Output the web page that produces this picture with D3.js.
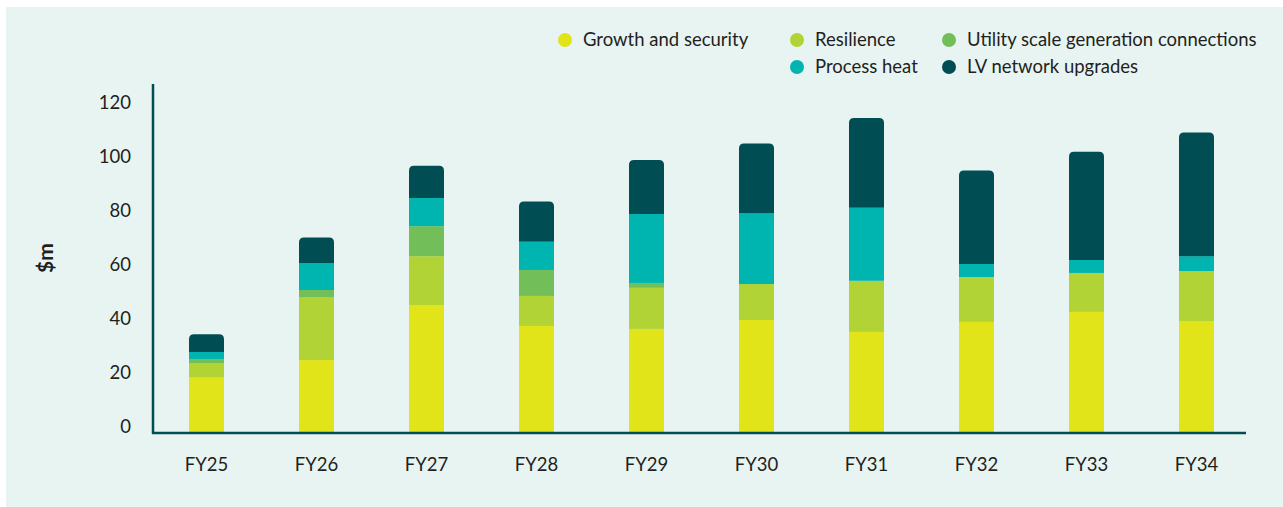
<!DOCTYPE html>
<html>
<head>
<meta charset="utf-8">
<script src="https://cdn.jsdelivr.net/npm/d3@7"></script>
<style>
  html, body { margin: 0; padding: 0; background: #ffffff; }
  svg { display: block; }
  text { font-family: Lato, "Open Sans", sans-serif; fill: #231f20; }
</style>
</head>
<body>
<svg id="chart" width="1283" height="507"></svg>
<script>
// Capital expenditure by driver, $m per financial year
const years = ["FY25", "FY26", "FY27", "FY28", "FY29", "FY30", "FY31", "FY32", "FY33", "FY34"];
const growthSecurity = [20.1, 26.6, 46.9, 39.2, 38.1, 41.4, 37.0, 40.7, 44.4, 41.0];
const resilience     = [5.2, 23.3, 18.1, 11.1, 15.2, 13.3, 18.9, 16.6, 14.4, 18.5];
const utilityScale   = [1.7, 2.6, 11.1, 9.6, 1.8, 0, 0, 0, 0, 0];
const processHeat    = [2.6, 10.0, 10.4, 10.4, 25.5, 26.2, 27.0, 4.8, 4.8, 5.5];
const lvUpgrades     = [6.5, 9.4, 11.9, 14.9, 20.0, 25.8, 33.2, 34.6, 40.0, 45.7];
const yTicks = [0, 20, 40, 60, 80, 100, 120];

const seriesNames = ["Growth and security", "Resilience", "Utility scale generation connections", "Process heat", "LV network upgrades"];
const seriesValues = [growthSecurity, resilience, utilityScale, processHeat, lvUpgrades];
const seriesColors = ["#e1e419", "#b1d335", "#72bf5a", "#00b4af", "#004d53"];
const keys = ["g", "r", "u", "p", "lv"];

const rows = years.map((y, i) => {
  const o = { year: y };
  keys.forEach((k, j) => { o[k] = seriesValues[j][i]; });
  return o;
});

const svg = d3.select("#chart");
const axisColor = "#004d53";
const fontSize = "18.5px";

// panel background
svg.append("rect").attr("x", 6).attr("y", 7).attr("width", 1277).attr("height", 500).attr("fill", "#e8f4f2");

const x = d3.scaleBand().domain(years).range([151.5, 1251.5]).padding(0);
const barW = 35;
const y = d3.scaleLinear().domain([0, 120]).range([432, 107.4]);

const stacked = d3.stack().keys(keys)(rows);

const r = 5;
function topRounded(x0, y0, w, h) {
  const rr = Math.min(r, h);
  return `M${x0},${y0 + h}V${y0 + rr}Q${x0},${y0} ${x0 + rr},${y0}H${x0 + w - rr}Q${x0 + w},${y0} ${x0 + w},${y0 + rr}V${y0 + h}Z`;
}

stacked.forEach((layer, li) => {
  const g = svg.append("g").attr("fill", seriesColors[li]);
  const isTop = li === stacked.length - 1;
  layer.forEach(d => {
    const h = y(d[0]) - y(d[1]);
    if (h <= 0) return;
    const x0 = x(d.data.year) + x.bandwidth() / 2 - barW / 2;
    if (isTop) {
      g.append("path").attr("d", topRounded(x0, y(d[1]), barW, h));
    } else {
      g.append("rect").attr("x", x0).attr("y", y(d[1])).attr("width", barW).attr("height", h);
    }
  });
});

// axes
const yAxis = d3.axisLeft(y).tickValues(yTicks).tickSize(0).tickPadding(22);
const ya = svg.append("g").attr("transform", "translate(153,0)").call(yAxis);
ya.select(".domain").remove();
ya.selectAll("text").attr("transform", "translate(0,-5)")
  .style("font-size", fontSize).style("font-family", "Lato, sans-serif").attr("fill", "#231f20");

const xAxis = d3.axisBottom(x).tickSize(0).tickPadding(25);
const xa = svg.append("g").attr("transform", "translate(0,433)").call(xAxis);
xa.select(".domain").remove();
xa.selectAll("text").style("font-size", fontSize).style("font-family", "Lato, sans-serif").attr("fill", "#231f20");

svg.append("line").attr("x1", 153).attr("x2", 153).attr("y1", 84).attr("y2", 434)
  .attr("stroke", axisColor).attr("stroke-width", 2.5);
svg.append("line").attr("x1", 152).attr("x2", 1246).attr("y1", 433).attr("y2", 433)
  .attr("stroke", axisColor).attr("stroke-width", 2.5);

// y axis title
svg.append("text").attr("transform", "translate(53,258) rotate(-90)")
  .attr("text-anchor", "middle").style("font-size", "21px").style("font-weight", "bold").text("$m");

// legend
const legendPos = [
  { cx: 565, cy: 40 }, { cx: 797, cy: 40 }, { cx: 949, cy: 40 },
  { cx: 797, cy: 67 }, { cx: 949, cy: 67 }
];
const lg = svg.append("g");
seriesNames.forEach((name, i) => {
  const p = legendPos[i];
  lg.append("circle").attr("cx", p.cx).attr("cy", p.cy).attr("r", 7).attr("fill", seriesColors[i]);
  lg.append("text").attr("x", p.cx + 18).attr("y", p.cy).attr("dy", "0.35em")
    .style("font-size", fontSize).text(name);
});
</script>
</body>
</html>
